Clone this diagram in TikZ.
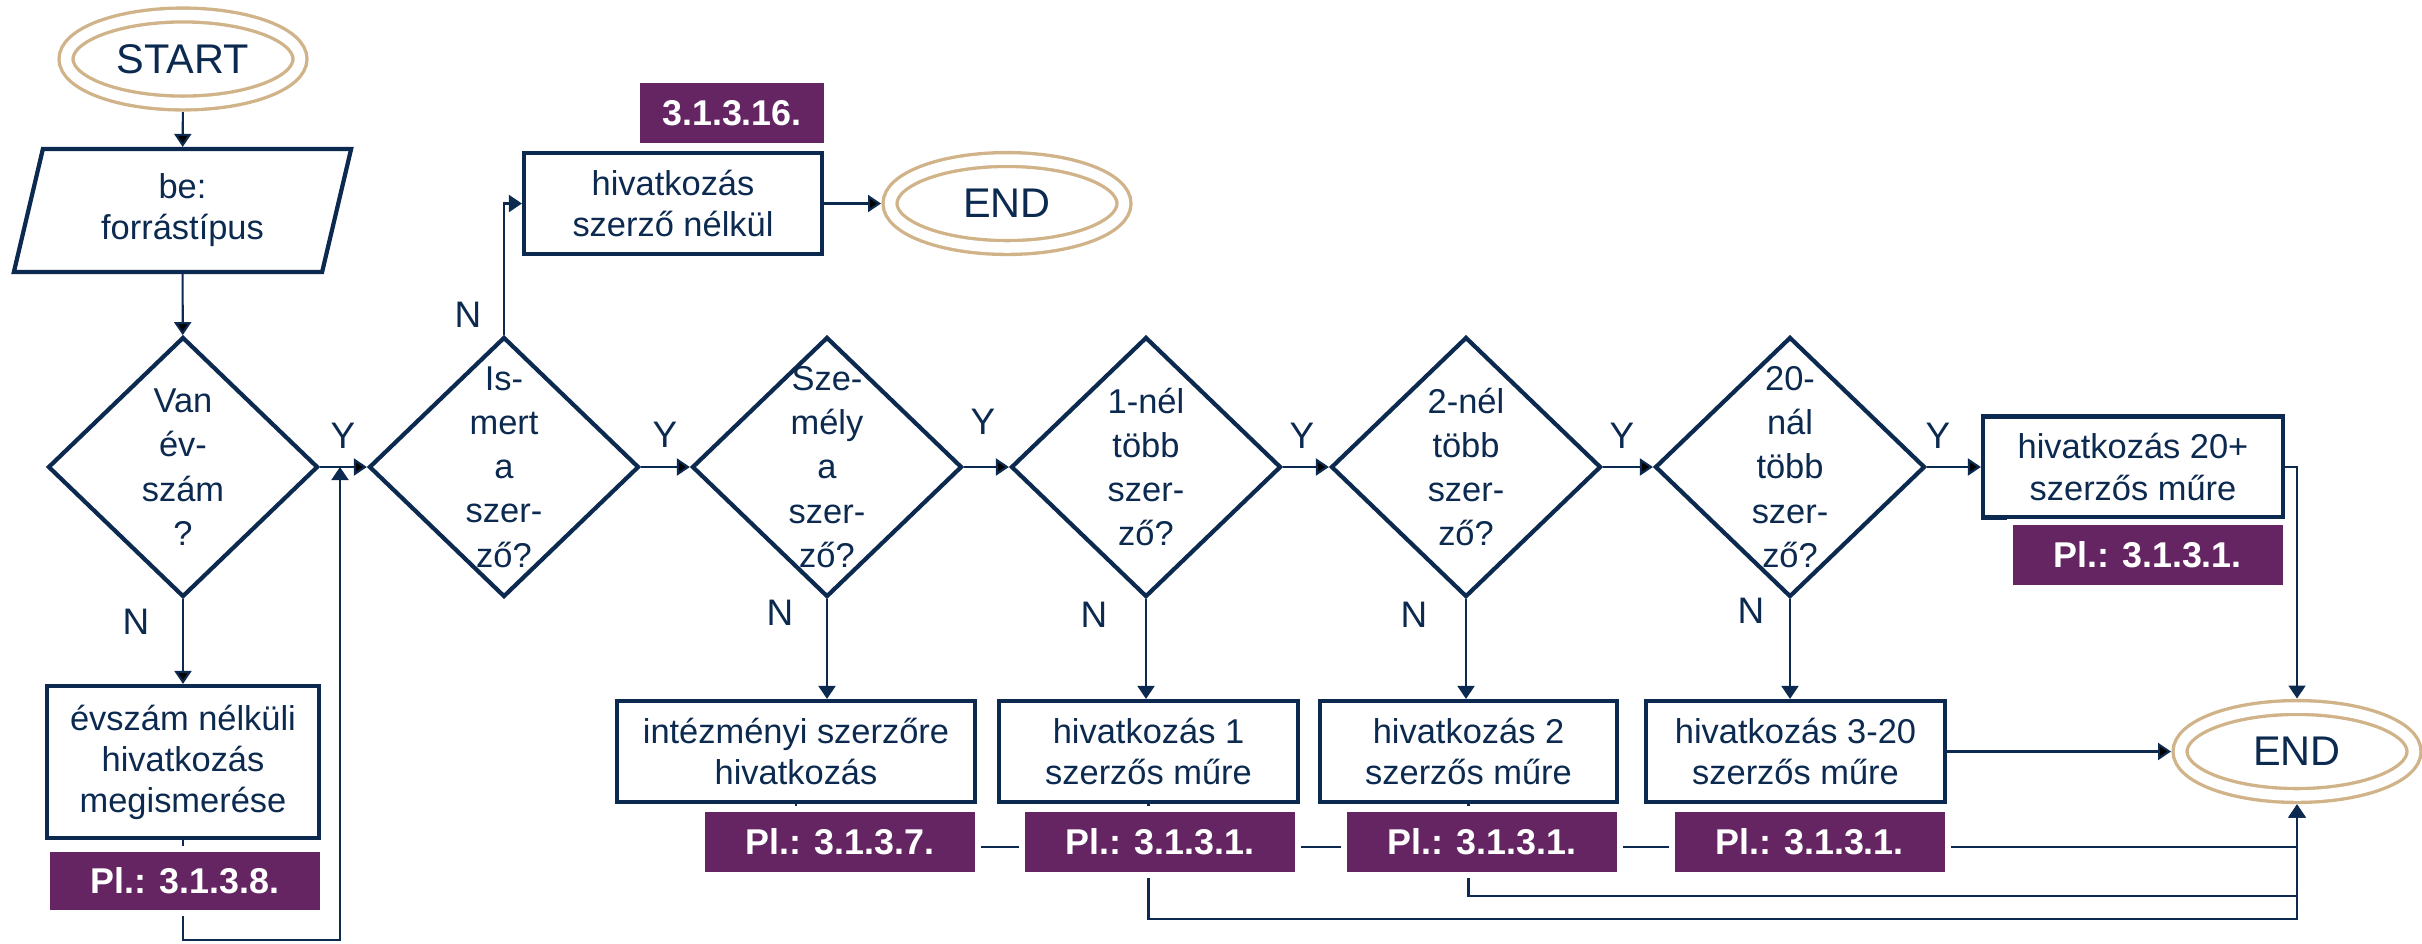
\documentclass[tikz,border=0pt]{standalone}
\usepackage{fontspec}
\setmainfont{Liberation Sans}
\usepackage{tikz}
\usetikzlibrary{arrows.meta,positioning,calc,shapes.geometric}

\definecolor{fcnavy}{HTML}{0C2A50}
\definecolor{fcplum}{HTML}{642562}
\definecolor{fcsand}{HTML}{D1B38A}

\newcommand{\boxfont}{\fontsize{9.8}{11.7}\selectfont}
\newcommand{\qfont}{\fontsize{9.8}{12.6}\selectfont}
\newcommand{\tagfont}{\fontsize{10.2}{12}\selectfont\bfseries}
\newcommand{\termfont}{\fontsize{11.8}{14}\selectfont}
\newcommand{\ynfont}{\fontsize{10.5}{12}\selectfont}

\begin{document}
\begin{tikzpicture}[
  >={Triangle[length=1.3mm,width=1.7mm]},
  terminal/.style={ellipse, draw=fcsand, line width=0.95pt, double=white, double distance=1.05mm,
    minimum width=2.34cm, minimum height=0.88cm, inner sep=0pt, outer sep=0.9mm, text=fcnavy, font=\termfont},
  io/.style={trapezium, trapezium left angle=77, trapezium right angle=103, trapezium stretches=true,
    draw=fcnavy, line width=1.2pt, minimum width=3.39cm, minimum height=1.23cm, inner sep=0pt,
    align=center, text=fcnavy, font=\boxfont},
  decision/.style={diamond, draw=fcnavy, line width=1.2pt, minimum width=2.70cm, minimum height=2.60cm, inner sep=0pt},
  qlabel/.style={align=center, text=fcnavy, font=\qfont, inner sep=0pt},
  process/.style={rectangle, draw=fcnavy, line width=1.2pt, minimum height=1.01cm, inner sep=0pt,
    align=center, text=fcnavy, font=\boxfont},
  tag/.style={rectangle, fill=fcplum, draw=white, line width=0.6mm, minimum width=2.76cm, minimum height=0.66cm,
    inner sep=0pt, outer sep=0pt, text=white, font=\tagfont},
  conn/.style={draw=fcnavy, line width=0.6pt},
  yn/.style={text=fcnavy, font=\ynfont, inner sep=0pt}
]
\useasboundingbox (0,0) rectangle (24.22,-9.43);

% start and input
\node (start) [terminal] at (1.83,-0.59) {START};
\node (input) [io] at (1.825,-2.105) {be:\\forrástípus};

% decisions
\node (d1) [decision, label={[qlabel]center:Van\\év-\\szám\\?}] at (1.83,-4.67) {};
\node (d2) [decision, label={[qlabel]center:Is-\\mert\\a\\szer-\\ző?}] at (5.04,-4.67) {};
\node (d3) [decision, label={[qlabel]center:Sze-\\mély\\a\\szer-\\ző?}] at (8.27,-4.67) {};
\node (d4) [decision, label={[qlabel]center:1-nél\\több\\szer-\\ző?}] at (11.46,-4.67) {};
\node (d5) [decision, label={[qlabel]center:2-nél\\több\\szer-\\ző?}] at (14.66,-4.67) {};
\node (d6) [decision, label={[qlabel]center:20-\\nál\\több\\szer-\\ző?}] at (17.90,-4.67) {};

% results
\node (nodate) [process, minimum width=2.72cm, minimum height=1.52cm] at (1.83,-7.62) {évszám nélküli\\hivatkozás\\megismerése};
\node (noauth) [process, minimum width=2.98cm] at (6.73,-2.035) {hivatkozás\\szerző nélkül};
\node (inst) [process, minimum width=3.58cm] at (7.96,-7.515) {intézményi szerzőre\\hivatkozás};
\node (one) [process, minimum width=2.99cm] at (11.485,-7.515) {hivatkozás 1\\szerzős műre};
\node (two) [process, minimum width=2.97cm] at (14.685,-7.515) {hivatkozás 2\\szerzős műre};
\node (three) [process, minimum width=2.99cm] at (17.955,-7.515) {hivatkozás 3-20\\szerzős műre};
\node (twenty) [process, minimum width=3.00cm] at (21.33,-4.67) {hivatkozás 20+\\szerzős műre};

\node (endtop) [terminal] at (10.07,-2.035) {END};
\node (endbot) [terminal] at (22.97,-7.515) {END};

% Y / N
\node (n1) [yn] at (1.36,-6.22) {N};
\node (y1) [yn] at (3.43,-4.36) {Y};
\node (n2) [yn] at (4.68,-3.15) {N};
\node (y2) [yn] at (6.65,-4.35) {Y};
\node (n3) [yn] at (7.80,-6.13) {N};
\node (y3) [yn] at (9.83,-4.22) {Y};
\node (n4) [yn] at (10.94,-6.15) {N};
\node (y4) [yn] at (13.02,-4.36) {Y};
\node (n5) [yn] at (14.14,-6.15) {N};
\node (y5) [yn] at (16.22,-4.36) {Y};
\node (n6) [yn] at (17.51,-6.11) {N};
\node (y6) [yn] at (19.38,-4.36) {Y};

% connectors
\coordinate (merge) at (3.40,-4.67);
\path [->] [conn]
  (start) edge (input)
  (input) edge (d1)
  (d1) edge (nodate)
  (d1) edge (d2)
  (d2) edge (d3)
  (d3) edge (d4)
  (d4) edge (d5)
  (d5) edge (d6)
  (d6) edge (twenty)
  (noauth) edge (endtop)
  (three) edge (endbot);
\draw [->] [conn] (d3.south) -- (d3.south |- inst.north);
\draw [->] [conn] (d4.south) -- (d4.south |- one.north);
\draw [->] [conn] (d5.south) -- (d5.south |- two.north);
\draw [->] [conn] (d6.south) -- (d6.south |- three.north);
\draw [->] [conn] (d2.north) |- (noauth.west);
\draw [->] [conn] (twenty.east) -| (endbot.north);
\draw [->] [conn] (nodate.south) -- ++(0,-1.00) -| (merge);
\draw [->] [conn] (inst.south) -- ++(0,-0.43) -| (endbot.south);
\draw [->] [conn] (one.south) -- ++(0,-1.15) -| (endbot.south);
\draw [->] [conn] (two.south) -- ++(0,-0.92) -| (endbot.south);

% examples (on top of the lines)
\node (tnodate) [tag, minimum height=0.64cm] at (1.85,-8.81) {Pl.: 3.1.3.8.};
\node (tnoauth) [tag, minimum width=1.90cm] at (7.32,-1.13) {3.1.3.16.};
\node (tinst) [tag] at (8.40,-8.42) {Pl.: 3.1.3.7.};
\node (tone) [tag] at (11.60,-8.42) {Pl.: 3.1.3.1.};
\node (ttwo) [tag] at (14.82,-8.42) {Pl.: 3.1.3.1.};
\node (tthree) [tag] at (18.095,-8.42) {Pl.: 3.1.3.1.};
\node (ttwenty) [tag] at (21.475,-5.545) {Pl.: 3.1.3.1.};
\end{tikzpicture}
\end{document}
